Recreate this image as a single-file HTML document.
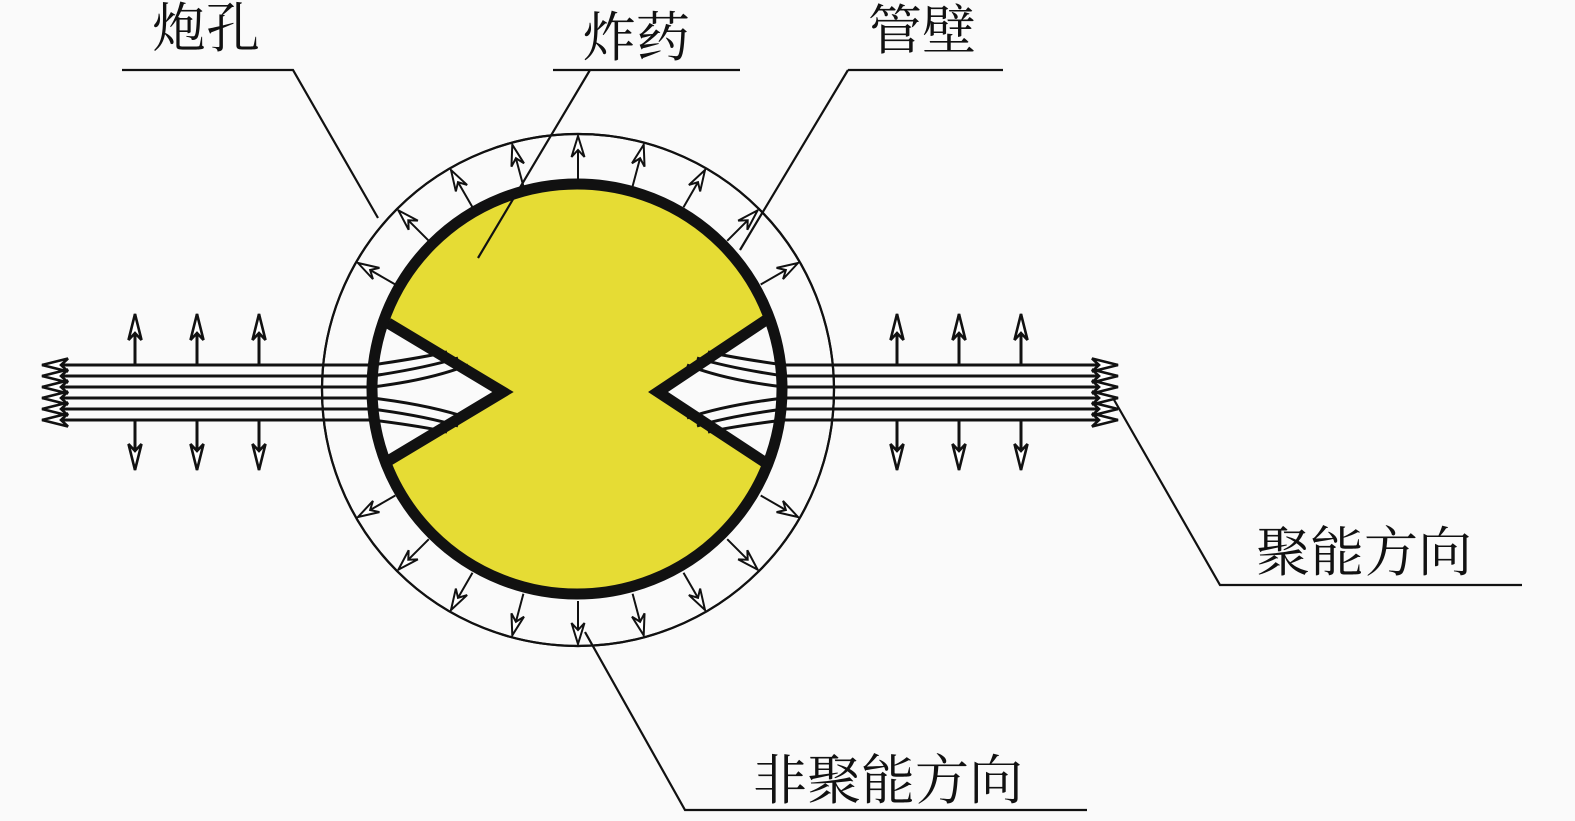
<!DOCTYPE html>
<html><head><meta charset="utf-8"><style>
html,body{margin:0;padding:0;background:#fafafa;}
svg{display:block;}
text{font-family:"Liberation Serif","Noto Serif CJK SC","Noto Sans CJK SC",serif;font-size:54px;fill:#111;}
</style></head><body>
<svg width="1575" height="821" viewBox="0 0 1575 821" xmlns="http://www.w3.org/2000/svg">
<defs>
<marker id="oa" viewBox="-24 -9 26 18" refX="0" refY="0" markerWidth="26" markerHeight="18" markerUnits="userSpaceOnUse" orient="auto">
<path d="M0,0 L-21,-6.5 L-14,0 L-21,6.5 Z" fill="#fff" stroke="#111" stroke-width="2"/>
</marker>
<marker id="sa" viewBox="-30 -9 32 18" refX="0" refY="0" markerWidth="32" markerHeight="18" markerUnits="userSpaceOnUse" orient="auto">
<path d="M0,0 L-26,-6.5 L-19,0 L-26,6.5 Z" fill="#fff" stroke="#111" stroke-width="2.6"/>
</marker>
</defs>
<rect width="1575" height="821" fill="#fafafa"/>

<g stroke="#111" stroke-width="3" fill="none" marker-end="url(#sa)">
<path d="M320,365H42"/><path d="M320,376H42"/><path d="M320,387H42"/><path d="M320,398H42"/><path d="M320,409H42"/><path d="M320,420H42"/>
<path d="M836,365H1118"/><path d="M836,376H1118"/><path d="M836,387H1118"/><path d="M836,398H1118"/><path d="M836,409H1118"/><path d="M836,420H1118"/>
</g>
<g stroke="#111" stroke-width="3" fill="none" marker-end="url(#sa)">
<path d="M135,365V314"/><path d="M197,365V314"/><path d="M259,365V314"/>
<path d="M135,420V470"/><path d="M197,420V470"/><path d="M259,420V470"/>
<path d="M897,365V314"/><path d="M959,365V314"/><path d="M1021,365V314"/>
<path d="M897,420V470"/><path d="M959,420V470"/><path d="M1021,420V470"/>
</g>

<circle cx="578" cy="390" r="256" fill="#fafafa" stroke="#111" stroke-width="2.2"/>
<g stroke="#111" stroke-width="3">
<path d="M318,365H380M318,376H380M318,387H380M318,398H380M318,409H380M318,420H380"/>
<path d="M775,365H838M775,376H838M775,387H838M775,398H838M775,409H838M775,420H838"/>
</g>
<circle cx="578" cy="390" r="256" fill="none" stroke="#111" stroke-width="2.2"/>

<g stroke="#111" stroke-width="2" fill="none" marker-end="url(#oa)">
<path d="M760.7,284.5L798,263"/>
<path d="M727.2,240.8L757.6,210.4"/>
<path d="M683.5,207.3L705,170"/>
<path d="M632.6,186.2L643.7,144.7"/>
<path d="M578,179L578,136"/>
<path d="M523.4,186.2L512.3,144.7"/>
<path d="M472.5,207.3L451,170"/>
<path d="M428.8,240.8L398.4,210.4"/>
<path d="M395.3,284.5L358,263"/>
<path d="M395.3,495.5L358,517"/>
<path d="M428.8,539.2L398.4,569.6"/>
<path d="M472.5,572.7L451,610"/>
<path d="M523.4,593.8L512.3,635.3"/>
<path d="M578,601L578,644"/>
<path d="M632.6,593.8L643.7,635.3"/>
<path d="M683.5,572.7L705,610"/>
<path d="M727.2,539.2L757.6,569.6"/>
<path d="M760.7,495.5L798,517"/>
</g>

<circle cx="577" cy="389" r="205" fill="#e6dc34"/>
<polygon points="388,323 503,392 388,461 375,461 375,323" fill="#fafafa"/>
<polygon points="769,318 658,392 769,465 780,465 780,318" fill="#fafafa"/>
<g stroke="#111" stroke-width="3" fill="none">
<path d="M372,365 Q420,358 447,352"/>
<path d="M372,376 Q425,368 458,358"/>
<path d="M372,387 Q430,380 468,365"/>
<path d="M372,398 Q430,405 468,418"/>
<path d="M372,409 Q425,416 458,426"/>
<path d="M372,420 Q420,426 447,432"/>
<path d="M784,365 Q735,358 708,352"/>
<path d="M784,376 Q730,368 697,358"/>
<path d="M784,387 Q725,380 687,365"/>
<path d="M784,398 Q725,405 687,418"/>
<path d="M784,409 Q730,416 697,426"/>
<path d="M784,420 Q735,426 708,432"/>
</g>
<g stroke="#111" stroke-width="11" fill="none" stroke-linejoin="miter">
<polyline points="388,323 503,392 388,461"/>
<polyline points="769,318 658,392 769,465"/>
</g>
<circle cx="577" cy="389" r="205" fill="none" stroke="#111" stroke-width="11"/>

<g stroke="#111" stroke-width="2.2" fill="none">
<path d="M122,70H293L378,218"/>
<path d="M553,70H740M590,70L478,258"/>
<path d="M848,70H1003M848,70L740,250"/>
<path d="M1522,585H1220L1113,398"/>
<path d="M1087,810H685L585,632"/>
</g>

<text x="152" y="47">炮孔</text>
<text x="582" y="56">炸药</text>
<text x="868" y="49">管壁</text>
<text x="1256" y="571">聚能方向</text>
<text x="753" y="799">非聚能方向</text>
</svg>
</body></html>
